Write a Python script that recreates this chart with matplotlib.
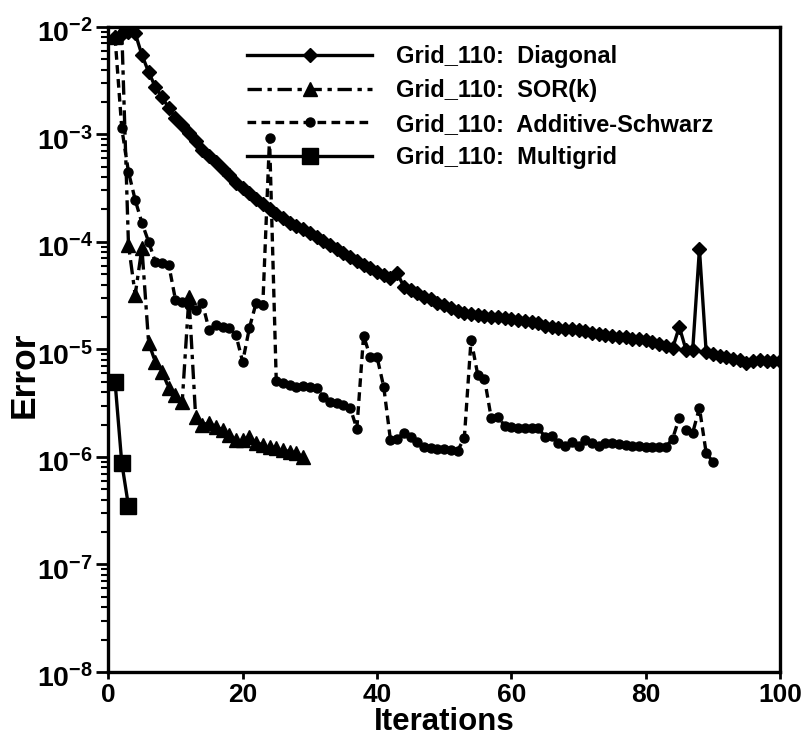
import matplotlib
matplotlib.use("Agg")
import matplotlib.pyplot as plt
import matplotlib.transforms as mtransforms
from matplotlib.ticker import FixedLocator, FuncFormatter, NullFormatter, MultipleLocator
import numpy as np

# Error history per iteration
diag_err = [8.0e-3, 8.55e-3, 8.9e-3, 8.7e-3, 5.46e-3, 3.79e-3, 2.75e-3, 2.22e-3, 1.75e-3, 1.42e-3,
            1.22e-3, 1.03e-3, 8.7e-4, 7.2e-4, 6.3e-4, 5.5e-4, 4.8e-4, 4.2e-4, 3.55e-4, 3.16e-4,
            2.82e-4, 2.51e-4, 2.24e-4, 2.0e-4, 1.82e-4, 1.66e-4, 1.51e-4, 1.41e-4, 1.31e-4, 1.20e-4,
            1.10e-4, 1.01e-4, 9.27e-5, 8.51e-5, 7.82e-5, 7.18e-5, 6.59e-5, 6.10e-5, 5.65e-5, 5.25e-5,
            4.88e-5, 4.57e-5, 5.15e-5, 3.81e-5, 3.55e-5, 3.31e-5, 3.09e-5, 2.92e-5, 2.72e-5, 2.57e-5,
            2.43e-5, 2.29e-5, 2.19e-5, 2.14e-5, 2.09e-5, 2.04e-5, 2.02e-5, 2.0e-5, 1.95e-5, 1.91e-5,
            1.86e-5, 1.82e-5, 1.78e-5, 1.76e-5, 1.66e-5, 1.60e-5, 1.58e-5, 1.55e-5, 1.53e-5, 1.52e-5,
            1.48e-5, 1.43e-5, 1.40e-5, 1.36e-5, 1.33e-5, 1.30e-5, 1.29e-5, 1.26e-5, 1.24e-5, 1.22e-5,
            1.17e-5, 1.12e-5, 1.07e-5, 1.02e-5, 1.62e-5, 9.9e-6, 9.9e-6, 8.6e-5, 9.5e-6, 9.1e-6,
            8.7e-6, 8.5e-6, 8.2e-6, 7.9e-6, 7.5e-6, 7.8e-6, 7.9e-6, 7.85e-6, 7.8e-6, 7.8e-6]

sor_err = [8.0e-3, 9.3e-3, 9.36e-5, 3.21e-5, 8.78e-5, 1.15e-5, 7.65e-6, 6.18e-6, 4.39e-6, 3.78e-6,
           3.25e-6, 3.08e-5, 2.36e-6, 1.99e-6, 2.07e-6, 1.9e-6, 1.79e-6, 1.6e-6, 1.44e-6, 1.44e-6,
           1.54e-6, 1.35e-6, 1.3e-6, 1.24e-6, 1.22e-6, 1.16e-6, 1.12e-6, 1.09e-6, 1.0e-6]

schwarz_err = [8.0e-3, 1.14e-3, 4.46e-4, 2.45e-4, 1.50e-4, 1.0e-4, 6.5e-5, 6.37e-5, 6.1e-5, 2.88e-5,
               2.76e-5, 2.59e-5, 2.33e-5, 2.7e-5, 1.52e-5, 1.69e-5, 1.62e-5, 1.58e-5, 1.36e-5, 7.65e-6,
               1.58e-5, 2.7e-5, 2.59e-5, 9.24e-4, 5.1e-6, 4.88e-6, 4.68e-6, 4.48e-6, 4.58e-6, 4.48e-6,
               4.39e-6, 3.62e-6, 3.25e-6, 3.18e-6, 3.05e-6, 2.86e-6, 1.83e-6, 1.34e-5, 8.5e-6, 8.5e-6,
               4.48e-6, 1.44e-6, 1.47e-6, 1.68e-6, 1.54e-6, 1.38e-6, 1.24e-6, 1.22e-6, 1.19e-6, 1.19e-6,
               1.16e-6, 1.14e-6, 1.5e-6, 1.23e-5, 5.79e-6, 5.32e-6, 2.31e-6, 2.36e-6, 1.95e-6, 1.9e-6,
               1.86e-6, 1.86e-6, 1.86e-6, 1.86e-6, 1.54e-6, 1.57e-6, 1.35e-6, 1.27e-6, 1.38e-6, 1.27e-6,
               1.44e-6, 1.35e-6, 1.27e-6, 1.35e-6, 1.35e-6, 1.32e-6, 1.3e-6, 1.27e-6, 1.27e-6, 1.24e-6,
               1.24e-6, 1.24e-6, 1.24e-6, 1.47e-6, 2.31e-6, 1.79e-6, 1.68e-6, 2.86e-6, 1.09e-6, 9.0e-7]

mg_err = [5.0e-6, 8.8e-7, 3.5e-7]

labels = ["Grid_110:  Diagonal", "Grid_110:  SOR(k)",
          "Grid_110:  Additive-Schwarz", "Grid_110:  Multigrid"]

y_decades = [1e-8, 1e-7, 1e-6, 1e-5, 1e-4, 1e-3, 1e-2]

plt.rcParams['font.family'] = ['Liberation Sans', 'DejaVu Sans']
plt.rcParams['font.weight'] = 'bold'
plt.rcParams['mathtext.fontset'] = 'custom'
plt.rcParams['mathtext.rm'] = 'Liberation Sans:bold'
plt.rcParams['mathtext.bf'] = 'Liberation Sans:bold'

fig = plt.figure(figsize=(8.09, 7.44), dpi=100)
ax = fig.add_axes([0.1339, 0.0968, 0.8303, 0.8673])


def iters(vals):
    return np.arange(1, len(vals) + 1)


lw = 2.4
ax.plot(iters(diag_err), diag_err, color='black', lw=lw, marker='D', ms=7,
        label=labels[0])
ax.plot(iters(sor_err), sor_err, color='black', lw=lw, marker='^', ms=10,
        dashes=(4.3, 1.7, 1.3, 1.7), label=labels[1])
ax.plot(iters(schwarz_err), schwarz_err, color='black', lw=lw, marker='o', ms=6.5,
        dashes=(2.6, 1.6), label=labels[2])
ax.plot(iters(mg_err), mg_err, color='black', lw=lw, marker='s', ms=12,
        label=labels[3])

ax.set_yscale('log')
ax.set_xlim(0, 100)
ax.set_ylim(1e-8, 1e-2)

minor_y = [m * d for d in y_decades[:-1] for m in range(2, 10)]
ax.yaxis.set_major_locator(FixedLocator(y_decades))
ax.yaxis.set_minor_locator(FixedLocator(minor_y))
ax.yaxis.set_major_formatter(FuncFormatter(lambda v, p: r'$\mathbf{10^{%d}}$' % round(np.log10(v))))
ax.yaxis.set_minor_formatter(NullFormatter())
ax.xaxis.set_major_locator(MultipleLocator(20))

ax.tick_params(axis='y', which='major', direction='out', length=9, width=2,
               labelsize=20.5, pad=2, right=False)
ax.tick_params(axis='x', which='major', direction='out', length=5, width=2,
               labelsize=19, pad=3, top=False)
ax.tick_params(axis='y', which='minor', direction='out', length=5, width=1.5,
               right=False)

# push the 10^n labels a little lower, like the reference
shift = mtransforms.ScaledTranslation(0, -3 / 72, fig.dpi_scale_trans)
for lab in ax.yaxis.get_majorticklabels():
    lab.set_transform(lab.get_transform() + shift)

for sp in ax.spines.values():
    sp.set_linewidth(2.4)

ax.set_xlabel('Iterations', fontsize=22.5, fontweight='bold', labelpad=0)
ax.set_ylabel('Error', fontsize=25.5, fontweight='bold')
ax.yaxis.set_label_coords(-0.101, 0.46)

ax.legend(loc='upper left', bbox_to_anchor=(0.2065, 0.971), frameon=False,
          handlelength=5.3, handletextpad=1.0, labelspacing=0.45,
          borderaxespad=0, borderpad=0, prop={'weight': 'bold', 'size': 17})

fig.savefig('out.png', dpi=100)
